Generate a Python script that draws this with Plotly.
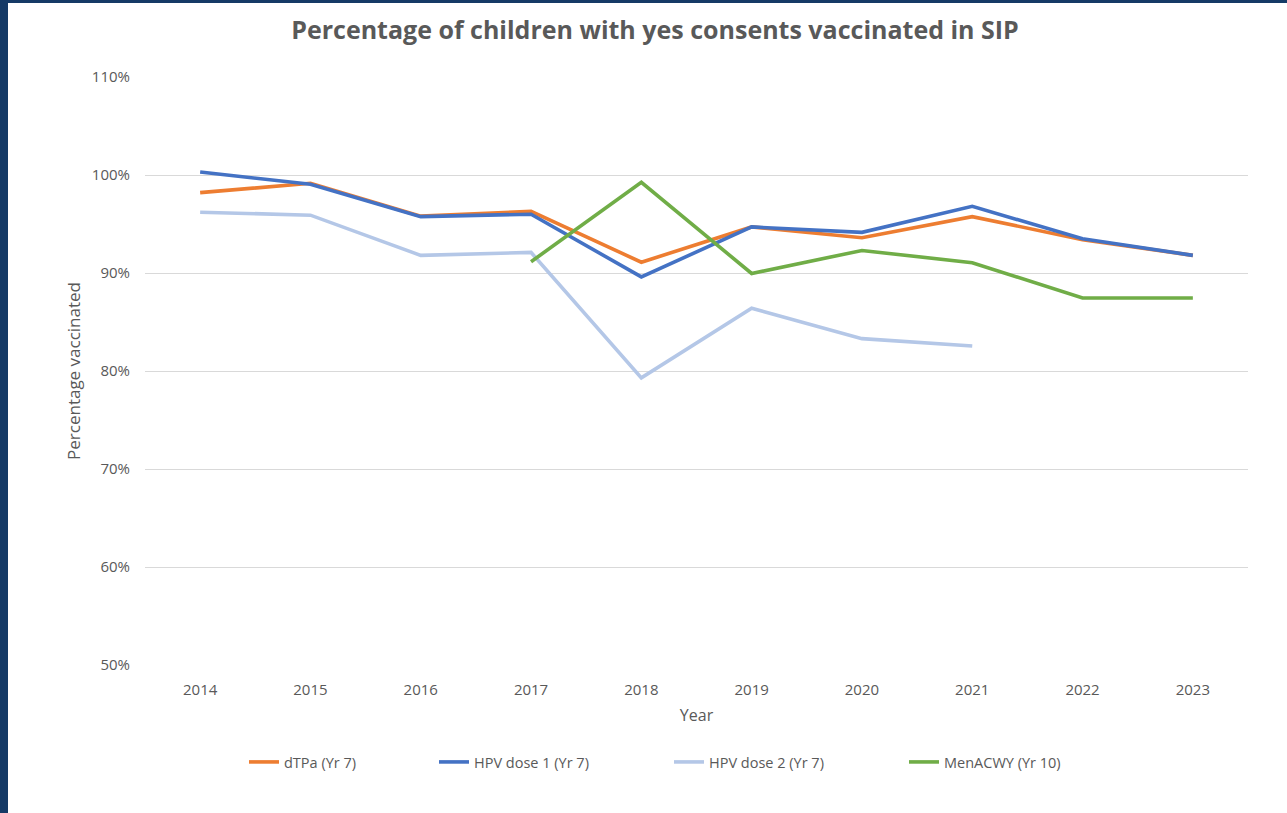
import plotly.graph_objects as go

years = ["2014", "2015", "2016", "2017", "2018", "2019", "2020", "2021", "2022", "2023"]
dtpa = [98.2, 99.15, 95.8, 96.3, 91.1, 94.7, 93.6, 95.75, 93.4, 91.8]
hpv1 = [100.3, 99.05, 95.75, 96.0, 89.6, 94.7, 94.15, 96.8, 93.5, 91.8]
hpv2 = [96.2, 95.9, 91.8, 92.1, 79.3, 86.4, 83.3, 82.55, None, None]
menacwy = [None, None, None, 91.15, 99.25, 89.95, 92.3, 91.05, 87.45, 87.45]

names = ["dTPa (Yr 7)", "HPV dose 1 (Yr 7)", "HPV dose 2 (Yr 7)", "MenACWY (Yr 10)"]
colors = ["#ED7D31", "#4472C4", "#B4C7E7", "#70AD47"]
series = [dtpa, hpv1, hpv2, menacwy]
y_ticks = [50, 60, 70, 80, 90, 100, 110]

W, H = 1287, 813
L, R, T, B = 145, 39, 77, 148
pw, ph = W - L - R, H - T - B

def px_x(px):
    return (px - L) / pw

def px_y(py):
    return 1 - (py - T) / ph

FONT = "Open Sans"
GREY = "#595959"

fig = go.Figure()
legend_ids = ["legend", "legend2", "legend3", "legend4"]
legend_starts = [249, 439, 674, 909]
for i, (nm, col, ys) in enumerate(zip(names, colors, series)):
    fig.add_trace(go.Scatter(
        x=years, y=ys, mode="lines", name=nm,
        line=dict(color=col, width=3.6),
        connectgaps=False,
        legend=legend_ids[i],
    ))

layout_legends = {}
for i, lid in enumerate(legend_ids):
    layout_legends[lid] = dict(
        x=px_x(legend_starts[i] - 5), y=px_y(762), xanchor="left", yanchor="middle",
        orientation="h", bgcolor="rgba(0,0,0,0)", borderwidth=0,
        font=dict(family=FONT, size=14.5, color=GREY),
        itemwidth=30,
    )

fig.update_layout(
    width=W, height=H,
    margin=dict(l=L, r=R, t=T, b=B, pad=0),
    paper_bgcolor="white", plot_bgcolor="white",
    title=dict(text="<b>Percentage of children with yes consents vaccinated in SIP</b>",
               x=655 / W, xanchor="center", y=1 - 30 / H, yanchor="middle",
               font=dict(family=FONT, size=25, color=GREY)),
    showlegend=True,
    **layout_legends,
    xaxis=dict(
        type="category", range=[-0.5, 9.5], showgrid=False, zeroline=False,
        showline=False, ticks="", tickfont=dict(family=FONT, size=15, color=GREY),
        ticklabelstandoff=14,
        title=dict(text="Year", font=dict(family=FONT, size=16, color=GREY), standoff=11),
    ),
    yaxis=dict(
        range=[50, 110], tickvals=y_ticks, ticktext=[f"{v}%" for v in y_ticks],
        showgrid=True, gridcolor="#D9D9D9", gridwidth=1, zeroline=False,
        showline=False, ticks="", tickfont=dict(family=FONT, size=15, color=GREY),
        ticklabelstandoff=14,
        title=dict(text="Percentage vaccinated", font=dict(family=FONT, size=17, color=GREY), standoff=6),
    ),
    shapes=[
        dict(type="rect", xref="paper", yref="paper", x0=px_x(0), x1=px_x(8), y0=px_y(H), y1=px_y(0),
             fillcolor="#153A66", line=dict(width=0), layer="above"),
        dict(type="rect", xref="paper", yref="paper", x0=px_x(0), x1=px_x(W), y0=px_y(3), y1=px_y(0),
             fillcolor="#153A66", line=dict(width=0), layer="above"),
    ],
)

fig.write_html("out.html")
